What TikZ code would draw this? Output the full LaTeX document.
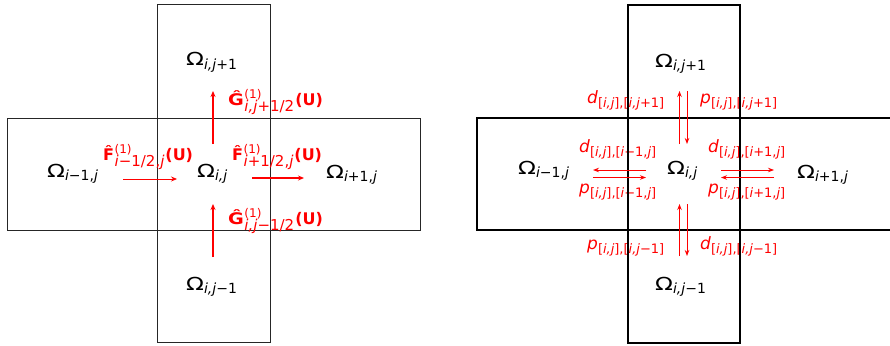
\documentclass[tikz,border=0pt]{standalone}
\usepackage{graphicx}
\usepackage{fontspec}
\setmainfont{DejaVu Sans}
\usetikzlibrary{arrows.meta}
\definecolor{fred}{RGB}{255,0,0}
\newcommand\Om[1]{\scalebox{1.3}[1]{\fontsize{18}{18}\selectfont Ω}\raisebox{-3.5pt}{\fontsize{14}{14}\selectfont #1}}
\newcommand\Flux[3]{\scalebox{#3}[1]{\fontsize{16}{16}\selectfont\bfseries #1}\kern0.5pt\rlap{\raisebox{7pt}{\fontsize{12}{12}\selectfont (1)}}\raisebox{-6pt}{\fontsize{15}{15}\selectfont #2}\kern1pt{\fontsize{16}{16}\selectfont\bfseries (U)}}
\newcommand\DP[2]{{\fontsize{17}{17}\selectfont\itshape #1}\raisebox{-4pt}{\fontsize{13}{13}\selectfont #2}}
\tikzset{
  box/.style={draw=black!85, line width=1pt},
  boxb/.style={draw=black, line width=2pt},
  flx/.style={draw=fred, line width=1.6pt, -{Stealth[length=6pt,width=5pt]}},
  flxn/.style={draw=fred, line width=0.8pt, -{Stealth[length=6pt,width=5pt]}},
  dpa/.style={draw=fred, line width=0.9pt, -{Stealth[length=6pt,width=4.5pt]}},
  lab/.style={inner sep=0pt, anchor=base west},
  rlab/.style={lab, text=fred},
}
\begin{document}
\begin{tikzpicture}[x=1pt,y=-1pt]
\useasboundingbox (0,0) rectangle (890,345);
% ---------------- left figure ----------------
\draw[box] (157,4.5) rectangle (270,342.5);
\draw[box] (7,118) rectangle (420,230);
\node[lab] (Lu) at (186,66) {\Om{\textit{i,j}+1}};
\node[lab] (Lc) at (197,177) {\Om{\textit{i,j}}};
\node[lab] (Lw) at (47,177) {\Om{\textit{i}−1,\textit{j}}};
\node[lab] (Le) at (326,178) {\Om{\textit{i}+1,\textit{j}}};
\node[lab] (Ld) at (186,290) {\Om{\textit{i,j}−1}};
\node[rlab] (Gt) at (228,105) {\Flux{Ĝ}{\textit{i,j}+1/2}{1.2}};
\node[rlab] (Fw) at (103,160) {\Flux{\^{F}}{\textit{i}−1/2,\textit{j}}{1}};
\node[rlab] (Fe) at (232,160) {\Flux{\^{F}}{\textit{i}+1/2,\textit{j}}{1}};
\node[rlab] (Gb) at (228,224) {\Flux{Ĝ}{\textit{i,j}−1/2}{1.2}};
\coordinate (a1s) at (213,144); \coordinate (a1e) at (213,91);
\coordinate (a2s) at (213,257); \coordinate (a2e) at (213,204);
\coordinate (a3s) at (123,179); \coordinate (a3e) at (177,179);
\coordinate (a4s) at (252,178); \coordinate (a4e) at (304,178);
\draw[flx] (a1s) -- (a1e);
\draw[flx] (a2s) -- (a2e);
\draw[flxn] (a3s) -- (a3e);
\draw[flx] (a4s) -- (a4e);
% ---------------- right figure ----------------
\node[lab] (Ru) at (655,67) {\Om{\textit{i,j}+1}};
\node[lab] (Rc) at (667,174) {\Om{\textit{i,j}}};
\node[lab] (Rw) at (518,174) {\Om{\textit{i}−1,\textit{j}}};
\node[lab] (Re) at (797,178) {\Om{\textit{i}+1,\textit{j}}};
\node[lab] (Rd) at (655,290) {\Om{\textit{i,j}−1}};
\node[rlab] (dU) at (587,103) {\DP{d}{[\textit{i,j}],[\textit{i,j}+1]}};
\node[rlab] (pU) at (700,103) {\DP{p}{[\textit{i,j}],[\textit{i,j}+1]}};
\node[rlab] (dW) at (579,152) {\DP{d}{[\textit{i,j}],[\textit{i}−1,\textit{j}]}};
\node[rlab] (pW) at (579,193) {\DP{p}{[\textit{i,j}],[\textit{i}−1,\textit{j}]}};
\node[rlab] (dE) at (708,152) {\DP{d}{[\textit{i,j}],[\textit{i}+1,\textit{j}]}};
\node[rlab] (pE) at (708,193) {\DP{p}{[\textit{i,j}],[\textit{i}+1,\textit{j}]}};
\node[rlab] (pD) at (587,249) {\DP{p}{[\textit{i,j}],[\textit{i,j}−1]}};
\node[rlab] (dD) at (700,249) {\DP{d}{[\textit{i,j}],[\textit{i,j}−1]}};
\draw[boxb] (628,5) rectangle (740,343);
\draw[boxb] (477,118) rectangle (893,230);
\coordinate (u1s) at (679.5,144); \coordinate (u1e) at (679.5,91);
\coordinate (u2s) at (687,91);    \coordinate (u2e) at (687,144);
\coordinate (b1s) at (679.5,256); \coordinate (b1e) at (679.5,204);
\coordinate (b2s) at (687,204);   \coordinate (b2e) at (687,256);
\coordinate (w1s) at (646,170);   \coordinate (w1e) at (593,170);
\coordinate (w2s) at (593,177.5); \coordinate (w2e) at (646,177.5);
\coordinate (e1s) at (721,170);   \coordinate (e1e) at (774,170);
\coordinate (e2s) at (774,177.5); \coordinate (e2e) at (721,177.5);
\draw[dpa] (u1s) -- (u1e);
\draw[dpa] (u2s) -- (u2e);
\draw[dpa] (b1s) -- (b1e);
\draw[dpa] (b2s) -- (b2e);
\draw[dpa] (w1s) -- (w1e);
\draw[dpa] (w2s) -- (w2e);
\draw[dpa] (e1s) -- (e1e);
\draw[dpa] (e2s) -- (e2e);
\end{tikzpicture}
\end{document}
